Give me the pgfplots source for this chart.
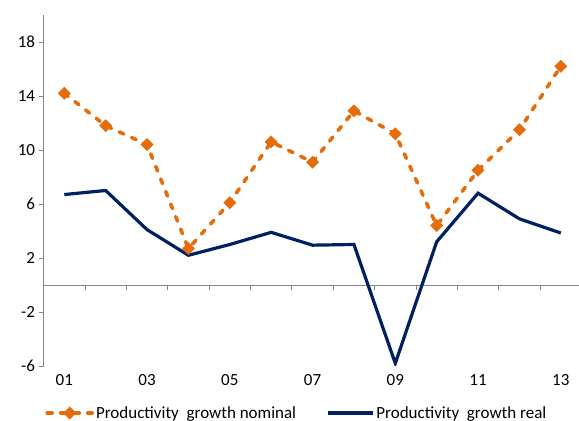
\documentclass[border=0pt]{standalone}
\usepackage{fontspec}
\setmainfont{Carlito}
\usepackage{pgfplots}
\pgfplotsset{compat=1.18}
\definecolor{navyx}{HTML}{002060}
\definecolor{orangex}{HTML}{E46C0A}
\definecolor{axisgray}{HTML}{868686}
\begin{document}
\begin{tikzpicture}
\begin{axis}[
  scale only axis, width=535.4pt, height=351pt,
  xmin=-0.5, xmax=12.44, ymin=-6, ymax=20,
  axis y line*=left, axis x line*=bottom,
  x axis line style={draw=none},
  y axis line style={axisgray, line width=0.8pt},
  ytick={-6,-2,2,6,10,14,18},
  yticklabels={-6,-2,2,6,10,14,18},
  ytick style={axisgray, line width=0.8pt},
  xtick={0,2,4,6,8,10,12},
  xticklabels={01,03,05,07,09,11,13},
  xtick style={draw=none},
  tick align=outside, major tick length=5pt,
  ticklabel style={font=\fontsize{17}{20}\selectfont, text=black},
  legend columns=2,
  legend style={at={(axis description cs:0.003,-0.134)}, anchor=west, draw=none, fill=none,
    inner sep=0pt, font=\fontsize{17}{20}\selectfont,
    /tikz/every even column/.append style={column sep=28pt}},
  legend image code/.code={\draw[mark repeat=2,mark phase=2,#1] plot coordinates {(0pt,0pt)(22.5pt,0pt)(45pt,0pt)};},
]
\draw[axisgray, line width=0.8pt] (axis cs:-0.5,0) -- (axis cs:12.44,0);
\pgfplotsinvokeforeach{0.5,1.5,2.5,3.5,4.5,5.5,6.5,7.5,8.5,9.5,10.5,11.5}{
  \draw[axisgray, line width=0.8pt] (axis cs:#1,0) -- ++(0pt,-5pt);
}
\addplot[orangex, line width=3.6pt, line cap=round, dash pattern=on 5pt off 8.5pt, mark=square*, mark size=4.3pt,
  mark options={solid, rotate=45, fill=orangex, draw=orangex, line width=0.5pt}]
  coordinates {(0,14.2)(1,11.8)(2,10.4)(3,2.7)(4,6.1)(5,10.6)(6,9.1)(7,12.9)(8,11.2)(9,4.4)(10,8.5)(11,11.5)(12,16.2)};
\addlegendentry{Productivity\ \ growth nominal}
\addplot[navyx, line width=3.2pt, mark=none]
  coordinates {(0,6.7)(1,7.0)(2,4.1)(3,2.2)(4,3.0)(5,3.9)(6,2.95)(7,3.0)(8,-5.8)(9,3.2)(10,6.8)(11,4.9)(12,3.85)};
\addlegendentry{Productivity\ \ growth real}
\end{axis}
\pgfresetboundingbox
\path ([xshift=-43.6pt,yshift=-55pt]current axis.south west) rectangle ([yshift=15pt]current axis.north east);
\end{tikzpicture}
\end{document}
